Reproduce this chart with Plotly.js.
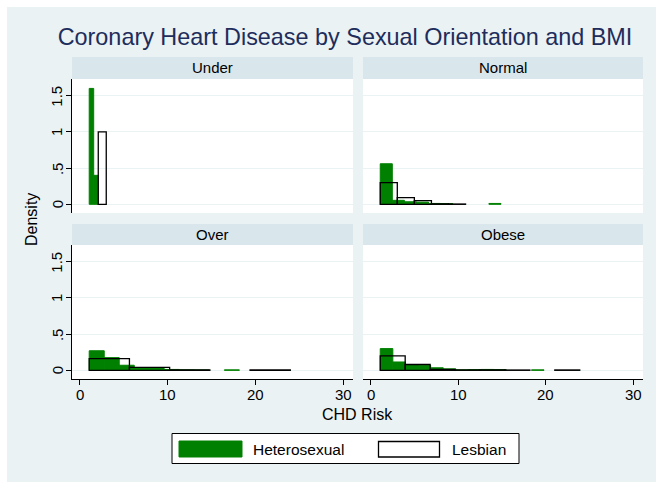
<!DOCTYPE html>
<html>
<head>
<meta charset="utf-8">
<script src="https://cdn.plot.ly/plotly-3.0.1.min.js"></script>
<style>html,body{margin:0;padding:0;background:#fff;}#chart{width:656px;height:482px;}</style>
</head>
<body>
<div id="chart"></div>
<script>
// ---- data ----
const chartTitle = 'Coronary Heart Disease by Sexual Orientation and BMI';
const panelNames = ['Under', 'Normal', 'Over', 'Obese'];
const groupNames = ['Heterosexual', 'Lesbian'];
const xTitle = 'CHD Risk';
const yTitle = 'Density';
const xTickVals = [0, 10, 20, 30];
const xTickText = ['0', '10', '20', '30'];
const yTickVals = [0, 0.5, 1, 1.5];
const yTickText = ['0', '.5', '1', '1.5'];

// histogram bins: first bin start, bin width, bar heights (density)
const heteroStart = [1.06, 1.07, 1.06, 1.07];
const heteroWidth = [0.51, 1.38, 1.71, 1.44];
const heteroUnder  = [1.6, 0.4];
const heteroNormal = [0.56, 0.055, 0.035, 0.03, 0.012, 0.01, 0, 0, 0, 0.012];
const heteroOver   = [0.27, 0.175, 0.07, 0.035, 0.025, 0.012, 0.006, 0.004, 0, 0.006];
const heteroObese  = [0.30, 0.115, 0.075, 0.07, 0.035, 0.02, 0.006, 0.01, 0.012, 0.01, 0, 0, 0.006];

const lesbianStart = [2.09, 1.07, 1.06, 1.07];
const lesbianWidth = [0.91, 1.95, 4.58, 2.85];
const lesbianUnder  = [1.0];
const lesbianNormal = [0.30, 0.092, 0.05, 0.006, 0.004];
const lesbianOver   = [0.16, 0.04, 0.006, 0, 0.005];
const lesbianObese  = [0.2, 0.08, 0.012, 0.005, 0.006, 0.004, 0, 0.005];

const heteroHeights = [heteroUnder, heteroNormal, heteroOver, heteroObese];
const lesbianHeights = [lesbianUnder, lesbianNormal, lesbianOver, lesbianObese];

// ---- layout helpers (pixel -> paper, margins are zero) ----
const W = 656, H = 482;
const px = x => x / W;
const py = y => 1 - y / H;

const GREEN = '#008000';
const BG = '#eaf2f3';
const STRIP = '#d9e6eb';
const FONT = 'Liberation Sans, Arial, Helvetica, sans-serif';

const colX = [[72, 353], [363, 643]];
const rowY = [[79, 213], [245, 379]];
const stripY = [[57, 79], [224, 245]];

function binStarts(start, width, n) {
  const s = [];
  for (let i = 0; i < n; i++) s.push(start + i * width);
  return s;
}

const traces = [];
function addSeries(heights, starts, widths, name, fill, lineColor, lw) {
  panelNames.forEach((p, i) => {
    const ax = i === 0 ? '' : String(i + 1);
    const h = heights[i];
    traces.push({
      type: 'bar', name: name, showlegend: false,
      x: binStarts(starts[i], widths[i], h.length),
      y: h, width: h.map(() => widths[i]), offset: 0,
      marker: {color: fill, line: {color: lineColor, width: h.map(v => v > 0 ? lw : 0)}},
      xaxis: 'x' + ax, yaxis: 'y' + ax, hoverinfo: 'skip'
    });
  });
}
addSeries(heteroHeights, heteroStart, heteroWidth, groupNames[0], GREEN, GREEN, 1);
addSeries(lesbianHeights, lesbianStart, lesbianWidth, groupNames[1], 'rgba(0,0,0,0)', '#000', 1.3);

const layout = {
  width: W, height: H,
  margin: {l: 0, r: 0, t: 0, b: 0, pad: 0},
  paper_bgcolor: BG, plot_bgcolor: '#ffffff',
  barmode: 'overlay', showlegend: false,
  font: {family: FONT, size: 15, color: '#000'},
  title: {text: chartTitle, x: px(345), y: py(37), xref: 'paper', yref: 'paper',
          xanchor: 'center', yanchor: 'middle',
          font: {family: FONT, size: 23.4, color: '#1e2d5c'}},
  shapes: [], annotations: []
};

panelNames.forEach((p, i) => {
  const r = Math.floor(i / 2), c = i % 2;
  const ax = i === 0 ? '' : String(i + 1);
  const bottom = r === 1, left = c === 0;
  layout['xaxis' + ax] = {
    domain: [px(colX[c][0]), px(colX[c][1])],
    range: [-0.9, 31.1], anchor: 'y' + ax,
    showgrid: false, zeroline: false,
    showline: bottom, linecolor: '#000', linewidth: 1,
    ticks: bottom ? 'outside' : '', ticklen: 5, tickcolor: '#000',
    tickvals: xTickVals, showticklabels: false, fixedrange: true
  };
  layout['yaxis' + ax] = {
    domain: [py(rowY[r][1]), py(rowY[r][0])],
    range: [-0.12, 1.73], anchor: 'x' + ax,
    showgrid: true, gridcolor: BG, gridwidth: 1, zeroline: false,
    showline: left, linecolor: '#000', linewidth: 1,
    ticks: left ? 'outside' : '', ticklen: 5, tickcolor: '#000',
    tickvals: yTickVals, showticklabels: false, fixedrange: true
  };
  // tick labels placed through the axes' own scales
  if (left) {
    yTickVals.forEach((v, k) => layout.annotations.push({
      text: yTickText[k], xref: 'paper', yref: 'y' + ax, x: px(57), y: v,
      textangle: -90, showarrow: false, xanchor: 'center', yanchor: 'middle',
      font: {family: FONT, size: 15, color: '#000'}}));
  }
  if (bottom) {
    xTickVals.forEach((v, k) => layout.annotations.push({
      text: xTickText[k], xref: 'x' + ax, yref: 'paper', x: v, y: py(394),
      showarrow: false, xanchor: 'center', yanchor: 'middle',
      font: {family: FONT, size: 15, color: '#000'}}));
  }
  // strip header
  layout.shapes.push({type: 'rect', xref: 'paper', yref: 'paper', layer: 'below',
    x0: px(colX[c][0]), x1: px(colX[c][1]), y0: py(stripY[r][1]), y1: py(stripY[r][0]),
    fillcolor: STRIP, line: {width: 0}});
  layout.annotations.push({text: p, xref: 'paper', yref: 'paper', showarrow: false,
    x: px((colX[c][0] + colX[c][1]) / 2), y: py((stripY[r][0] + stripY[r][1]) / 2),
    xanchor: 'center', yanchor: 'middle', font: {family: FONT, size: 15, color: '#000'}});
});

// axis titles
layout.annotations.push({text: yTitle, xref: 'paper', yref: 'paper', showarrow: false,
  x: px(32), y: py(220), textangle: -90, xanchor: 'center', yanchor: 'middle',
  font: {family: FONT, size: 16, color: '#000'}});
layout.annotations.push({text: xTitle, xref: 'paper', yref: 'paper', showarrow: false,
  x: px(357), y: py(414), xanchor: 'center', yanchor: 'middle',
  font: {family: FONT, size: 16, color: '#000'}});

// legend (drawn manually)
layout.shapes.push({type: 'rect', xref: 'paper', yref: 'paper', layer: 'above',
  x0: px(172), x1: px(519), y0: py(463.5), y1: py(433.5),
  fillcolor: '#fff', line: {color: '#000', width: 1}});
layout.shapes.push({type: 'rect', xref: 'paper', yref: 'paper', layer: 'above',
  x0: px(179), x1: px(242), y0: py(457), y1: py(441),
  fillcolor: GREEN, line: {color: GREEN, width: 1}});
layout.shapes.push({type: 'rect', xref: 'paper', yref: 'paper', layer: 'above',
  x0: px(378.5), x1: px(439.5), y0: py(457), y1: py(441.5),
  fillcolor: '#fff', line: {color: '#000', width: 1.3}});
layout.annotations.push({text: groupNames[0], xref: 'paper', yref: 'paper', showarrow: false,
  x: px(251), y: py(449), xanchor: 'left', yanchor: 'middle',
  font: {family: FONT, size: 15.5, color: '#000'}});
layout.annotations.push({text: groupNames[1], xref: 'paper', yref: 'paper', showarrow: false,
  x: px(450), y: py(449), xanchor: 'left', yanchor: 'middle',
  font: {family: FONT, size: 15.5, color: '#000'}});

// white outer frame on left and top edges
layout.shapes.push({type: 'rect', xref: 'paper', yref: 'paper', layer: 'above',
  x0: 0, x1: px(7), y0: 0, y1: 1, fillcolor: '#fff', line: {width: 0}});
layout.shapes.push({type: 'rect', xref: 'paper', yref: 'paper', layer: 'above',
  x0: 0, x1: 1, y0: py(7), y1: 1, fillcolor: '#fff', line: {width: 0}});

Plotly.newPlot('chart', traces, layout, {displayModeBar: false, staticPlot: true});
</script>
</body>
</html>
